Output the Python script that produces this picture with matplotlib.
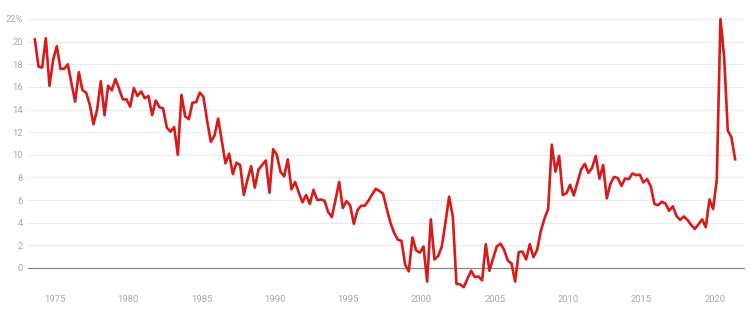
import matplotlib
matplotlib.use("Agg")
import matplotlib.pyplot as plt
import numpy as np

# Quarterly series, 1973 Q3 .. 2021 Q2
start_year = 1973
start_quarter = 3
values = [
    20.2, 17.8, 17.7, 20.3, 16.1, 18.4, 19.6, 17.6, 17.6, 18.0,
    16.3, 14.7, 17.3, 15.7, 15.5, 14.4, 12.7, 14.0, 16.5, 13.5,
    16.1, 15.7, 16.7, 15.8, 14.9, 14.9, 14.25, 15.9, 15.2, 15.6,
    15.0, 15.2, 13.5, 14.8, 14.2, 14.1, 12.4, 12.05, 12.45, 10.0,
    15.3, 13.4, 13.15, 14.6, 14.65, 15.5, 15.1, 13.0, 11.15, 11.7,
    13.2, 11.2, 9.25, 10.1, 8.3, 9.3, 9.1, 6.45, 7.8, 9.0,
    7.1, 8.7, 9.1, 9.5, 6.65, 10.5, 10.0, 8.5, 8.1, 9.6,
    6.95, 7.6, 6.65, 5.8, 6.45, 5.65, 6.9, 6.0, 6.05, 5.95,
    4.95, 4.5, 6.0, 7.6, 5.3, 5.9, 5.55, 3.9, 5.1, 5.5,
    5.5, 5.95, 6.5, 7.0, 6.8, 6.55, 5.2, 4.0, 3.1, 2.5,
    2.4, 0.3, -0.3, 2.7, 1.55, 1.35, 1.9, -1.2, 4.3, 0.75,
    1.05, 1.9, 4.0, 6.3, 4.55, -1.4, -1.45, -1.7, -0.95, -0.25,
    -0.8, -0.75, -1.1, 2.1, -0.25, 0.85, 1.9, 2.15, 1.6, 0.65,
    0.4, -1.2, 1.4, 1.45, 0.75, 2.1, 0.95, 1.6, 3.25, 4.35,
    5.2, 10.9, 8.5, 9.9, 6.45, 6.6, 7.35, 6.4, 7.55, 8.7,
    9.2, 8.4, 8.85, 9.9, 7.9, 9.1, 6.15, 7.45, 8.05, 7.95,
    7.25, 7.9, 7.85, 8.35, 8.2, 8.25, 7.55, 7.85, 7.2, 5.65,
    5.55, 5.85, 5.7, 5.05, 5.45, 4.6, 4.25, 4.55, 4.25, 3.8,
    3.45, 3.85, 4.3, 3.6, 6.05, 5.2, 7.8, 22.0, 18.7, 12.15,
    11.55, 9.6,
]
year_ticks = [1975, 1980, 1985, 1990, 1995, 2000, 2005, 2010, 2015, 2020]
y_ticks = [0, 2, 4, 6, 8, 10, 12, 14, 16, 18, 20, 22]
y_tick_labels = ["0", "2", "4", "6", "8", "10", "12", "14", "16", "18", "20", "22%"]

# quarter mid-points as fractional years
n = len(values)
q0 = start_year * 4 + (start_quarter - 1)
x = np.array([(q0 + i) / 4.0 + 0.125 for i in range(n)])

plt.rcParams['font.family'] = ['Roboto', 'DejaVu Sans']

W, H = 754, 310
fig = plt.figure(figsize=(W / 100, H / 100), dpi=100)
left, right = 28, 745
top, bottom = 19, 290.6
ax = fig.add_axes([left / W, 1 - bottom / H, (right - left) / W, (bottom - top) / H])

ax.set_xlim(1973.16, 2022.05)
ax.set_ylim(-2, 22)

for yv in y_ticks:
    if yv == 0:
        ax.axhline(yv, color='#8a8a8a', lw=0.9, zorder=2)
    else:
        ax.axhline(yv, color='#ebebeb', lw=0.9, zorder=1)

ax.plot(x, values, color='#d71a1a', lw=1.9, zorder=3, clip_on=False,
        solid_joinstyle='round')

for s in ax.spines.values():
    s.set_visible(False)

ax.set_yticks(y_ticks)
ax.set_yticklabels(y_tick_labels)
ax.set_xticks(year_ticks)
ax.set_xticklabels([str(y) for y in year_ticks])
ax.tick_params(axis='both', length=0, labelsize=6.8, colors='#a8a8a8')
ax.tick_params(axis='y', pad=3.5)
ax.tick_params(axis='x', pad=3.0)

fig.savefig("out.png", dpi=100, facecolor='white')
